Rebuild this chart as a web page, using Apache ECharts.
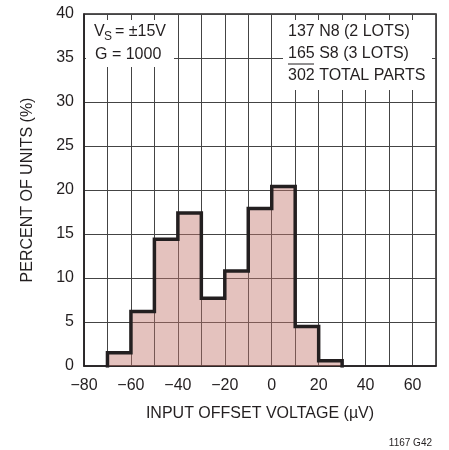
<!DOCTYPE html>
<html><head><meta charset="utf-8">
<script src="https://cdn.jsdelivr.net/npm/echarts@6/dist/echarts.min.js"></script>
<style>html,body{margin:0;padding:0;background:#fff}#c{width:449px;height:450px}</style>
</head><body><div id="c"></div>
<script>
const binStarts = [-70, -60, -50, -40, -30, -20, -10, 0, 10, 20];
const binWidth = 10;
const percents = [1.5, 6.2, 14.4, 17.4, 7.7, 10.8, 17.9, 20.4, 4.5, 0.6];
const xTicks = [-80, -60, -40, -20, 0, 20, 40, 60];
const yTicks = [0, 5, 10, 15, 20, 25, 30, 35, 40];

const FONT = '"Liberation Sans", Arial, sans-serif';
const INK = '#231f20';

// stepped outline built from bins
const outline = [];
binStarts.forEach((s, i) => {
  if (i === 0) outline.push([s, 0]);
  outline.push([s, percents[i]]);
  outline.push([s + binWidth, percents[i]]);
});
outline.push([binStarts[binStarts.length - 1] + binWidth, 0]);

const chart = echarts.init(document.getElementById('c'), null, {renderer: 'canvas'});
chart.setOption({
  animation: false,
  grid: {left: 84, right: 13, top: 14, bottom: 84, containLabel: false,
    show: true, borderColor: INK, borderWidth: 1.5, backgroundColor: 'transparent'},
  xAxis: {
    type: 'value', min: -80, max: 70, interval: 10,
    name: 'INPUT OFFSET VOLTAGE (µV)', nameLocation: 'middle', nameGap: 40,
    nameTextStyle: {fontFamily: FONT, fontSize: 16, color: INK},
    axisLine: {show: true, onZero: false, lineStyle: {color: INK, width: 1.5}},
    axisTick: {show: false},
    axisLabel: {fontFamily: FONT, fontSize: 16, color: INK, margin: 12,
      formatter: v => xTicks.includes(v) ? String(v).replace('-', '\u2212') : ''},
    splitLine: {show: true, lineStyle: {color: '#444', width: 1}}
  },
  yAxis: {
    type: 'value', min: 0, max: 40, interval: 5,
    name: 'PERCENT OF UNITS (%)', nameLocation: 'middle', nameGap: 48,
    nameTextStyle: {fontFamily: FONT, fontSize: 16, color: INK},
    axisLine: {show: true, onZero: false, lineStyle: {color: INK, width: 1.5}},
    axisTick: {show: false},
    axisLabel: {fontFamily: FONT, fontSize: 16, color: INK, margin: 10,
      formatter: v => yTicks.includes(v) ? String(v) : ''},
    splitLine: {show: true, lineStyle: {color: '#444', width: 1}}
  },
  series: [
    {
      type: 'custom',
      renderItem: function (params, api) {
        const x0 = api.value(0), x1 = x0 + binWidth, y = api.value(1);
        const p0 = api.coord([x0, y]);
        const p1 = api.coord([x1, 0]);
        return {type: 'rect', shape: {x: p0[0], y: p0[1], width: p1[0] - p0[0], height: p1[1] - p0[1]},
          style: {fill: 'rgba(195,120,110,0.45)'}};
      },
      data: binStarts.map((s, i) => [s, percents[i]]),
      z: 2
    },
    {
      type: 'line', data: outline, symbol: 'none',
      lineStyle: {color: INK, width: 3.5, join: 'miter', cap: 'square'},
      z: 3
    }
  ],
  graphic: [
    {type: 'rect', shape: {x: 86, y: 20, width: 88, height: 47}, style: {fill: '#fff'}, z: 10},
    {type: 'text', x: 94, y: 24, style: {text: 'V', font: '16px ' + FONT, fill: INK}, z: 11},
    {type: 'text', x: 104, y: 31, style: {text: 'S', font: '12px ' + FONT, fill: INK}, z: 11},
    {type: 'text', x: 115, y: 24, style: {text: '= \u00b115V', font: '16px ' + FONT, fill: INK}, z: 11},
    {type: 'text', x: 95, y: 47, style: {text: 'G = 1000', font: '16px ' + FONT, fill: INK}, z: 11},

    {type: 'rect', shape: {x: 283, y: 20, width: 149, height: 70}, style: {fill: '#fff'}, z: 10},
    {type: 'text', x: 288, y: 24, style: {text: '137 N8 (2 LOTS)', font: '16px ' + FONT, fill: INK}, z: 11},
    {type: 'text', x: 288, y: 46, style: {text: '165 S8 (3 LOTS)', font: '16px ' + FONT, fill: INK}, z: 11},
    {type: 'line', shape: {x1: 288, y1: 64, x2: 314, y2: 64}, style: {stroke: INK, lineWidth: 1}, z: 11},
    {type: 'text', x: 288, y: 68, style: {text: '302 TOTAL PARTS', font: '16px ' + FONT, fill: INK}, z: 11},

    {type: 'text', right: 17, top: 438, style: {text: '1167 G42', font: '10px ' + FONT, fill: INK}, z: 11}
  ]
});
</script></body></html>
